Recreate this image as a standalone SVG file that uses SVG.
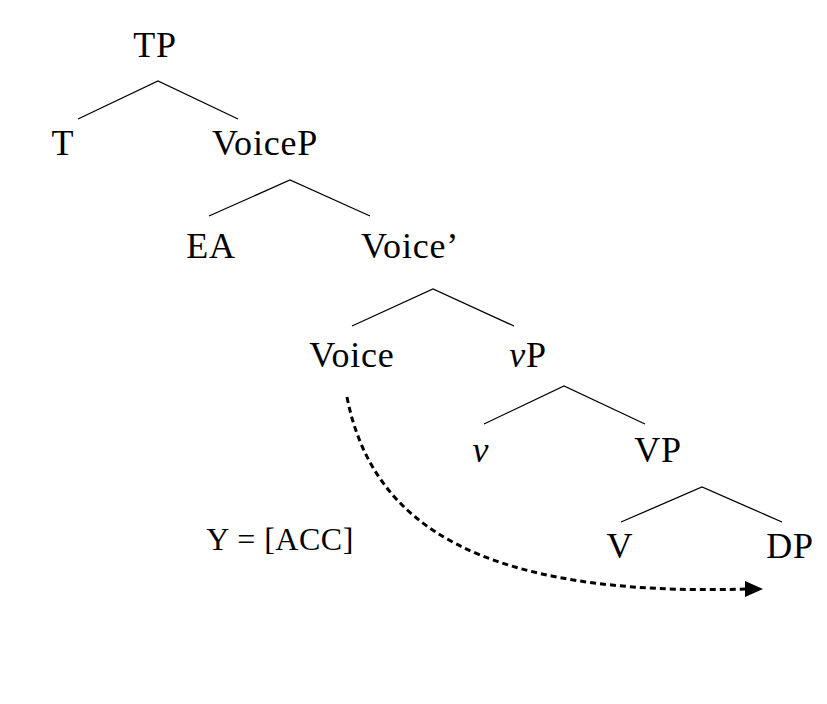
<svg xmlns="http://www.w3.org/2000/svg" width="827" height="704" viewBox="0 0 827 704">
<style>
text{font-family:"Liberation Serif","Times New Roman",serif;font-size:36px;letter-spacing:0.8px;text-anchor:middle;fill:#000}
.e{stroke:#000;stroke-width:1.3;fill:none}
</style>
<rect width="827" height="704" fill="#fff"/>
<g id="connectors">
<path class="e" d="M78,119 L158,81 L238,119"/>
<path class="e" d="M209,216 L290,180 L370,216"/>
<path class="e" d="M352,326 L433,289 L514,326"/>
<path class="e" d="M484,424 L564,386 L645,424"/>
<path class="e" d="M621,522 L702,487 L782,522"/>
<path d="M347,397 C372,525 480,597 748,589" fill="none" stroke="#000" stroke-width="3" stroke-dasharray="6,4"/>
<path d="M763,589 L745,581 L745,597 z" fill="#000"/>
</g>
<g id="TP"><text x="155" y="57">TP</text></g>
<g id="T"><text x="63" y="155">T</text></g>
<g id="VoiceP"><text x="265" y="155">VoiceP</text></g>
<g id="EA"><text x="211" y="258">EA</text></g>
<g id="VoiceBar"><text x="410" y="258">Voice’</text></g>
<g id="Voice"><text x="352" y="367">Voice</text></g>
<g id="vP"><text x="528" y="367"><tspan font-style="italic">v</tspan>P</text></g>
<g id="v"><text x="481" y="462" font-style="italic">v</text></g>
<g id="VP"><text x="658" y="462">VP</text></g>
<g id="V"><text x="620" y="558">V</text></g>
<g id="DP"><text x="790" y="558">DP</text></g>
<g id="label"><text x="280" y="550" style="font-size:32px;letter-spacing:0.5px">Y = [ACC]</text></g>
</svg>
